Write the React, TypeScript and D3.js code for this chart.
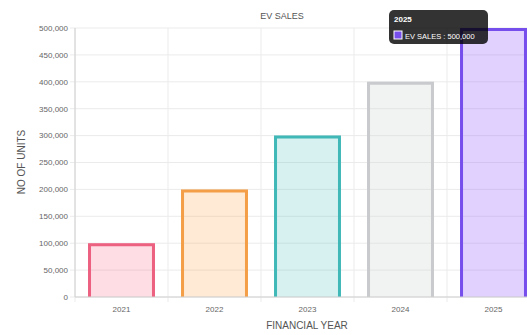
import React from "react";
import * as d3 from "d3";

const categories = ["2021", "2022", "2023", "2024", "2025"];
const values = [100000, 200000, 300000, 400000, 500000];
const yTicks = [0, 50000, 100000, 150000, 200000, 250000, 300000, 350000, 400000, 450000, 500000];
const borderColors = ["rgb(236,96,128)", "rgb(244,158,72)", "rgb(64,184,184)", "rgb(200,202,205)", "rgb(118,78,236)"];
const fillColors = ["rgba(255,99,132,0.22)", "rgba(255,159,64,0.22)", "rgba(75,192,192,0.22)", "rgba(205,215,210,0.3)", "rgba(153,102,255,0.3)"];

const W = 527, H = 335;
const M = { left: 75, right: 540, top: 28, bottom: 297 };
const font = "'Liberation Sans', Arial, sans-serif";

export default function App() {
  const x = d3.scaleBand().domain(categories).range([M.left, M.right]).paddingInner(0).paddingOuter(0);
  const y = d3.scaleLinear().domain([0, 500000]).range([M.bottom, M.top]);
  const bw = x.bandwidth() * 0.72;
  const fmt = d3.format(",");
  const bx = categories.map((c) => (x(c) as number) + x.bandwidth() / 2);
  return (
    <svg width={W} height={H} style={{ position: "absolute", left: 0, top: 0, background: "#fff" }} fontFamily={font}>
      {/* grid */}
      {yTicks.map((t) => (
        <line key={"g" + t} x1={M.left - 5} x2={M.right} y1={y(t)} y2={y(t)} stroke="#ebebeb" strokeWidth={1} />
      ))}
      {categories.map((c) => (
        <line key={"v" + c} x1={x(c) as number} x2={x(c) as number} y1={M.top} y2={M.bottom + 5} stroke="#ebebeb" />
      ))}
      {/* bars */}
      {categories.map((c, i) => {
        const x0 = bx[i] - bw / 2;
        const yt = y(values[i]);
        const h = M.bottom - yt;
        return (
          <g key={c}>
            <rect x={x0} y={yt} width={bw} height={h} fill={fillColors[i]} />
            <path
              d={`M${x0 + 1.5},${M.bottom} V${yt + 1.5} H${x0 + bw - 1.5} V${M.bottom}`}
              fill="none"
              stroke={borderColors[i]}
              strokeWidth={3}
            />
          </g>
        );
      })}
      {/* axes */}
      <line x1={M.left} x2={M.left} y1={M.top} y2={M.bottom} stroke="#d0d0d0" />
      <line x1={M.left} x2={M.right} y1={M.bottom} y2={M.bottom} stroke="#d0d0d0" />
      {yTicks.map((t) => (
        <text key={"t" + t} x={68} y={y(t)} dy="0.35em" textAnchor="end" fontSize={8} fill="#666">
          {fmt(t)}
        </text>
      ))}
      {categories.map((c, i) => (
        <text key={"x" + c} x={bx[i]} y={312} textAnchor="middle" fontSize={8} fill="#666">
          {c}
        </text>
      ))}
      <text x={307} y={329} textAnchor="middle" fontSize={10} fill="#555">FINANCIAL YEAR</text>
      <text transform={`translate(25,162) rotate(-90)`} textAnchor="middle" fontSize={10} fill="#555">NO OF UNITS</text>
      <text x={282} y={19} textAnchor="middle" fontSize={9} fill="#555">EV SALES</text>
      {/* tooltip */}
      <g>
        <rect x={389} y={10} width={99} height={34} rx={5} fill="rgba(0,0,0,0.8)" />
        <text x={394} y={22} fontSize={8} fontWeight="bold" fill="#fff">{categories[4]}</text>
        <rect x={394} y={31} width={8} height={8} fill={borderColors[4]} stroke="#fff" strokeWidth={1} />
        <text x={405} y={38.5} fontSize={7.5} fill="#fff">{`EV SALES : ${fmt(values[4])}`}</text>
      </g>
    </svg>
  );
}
